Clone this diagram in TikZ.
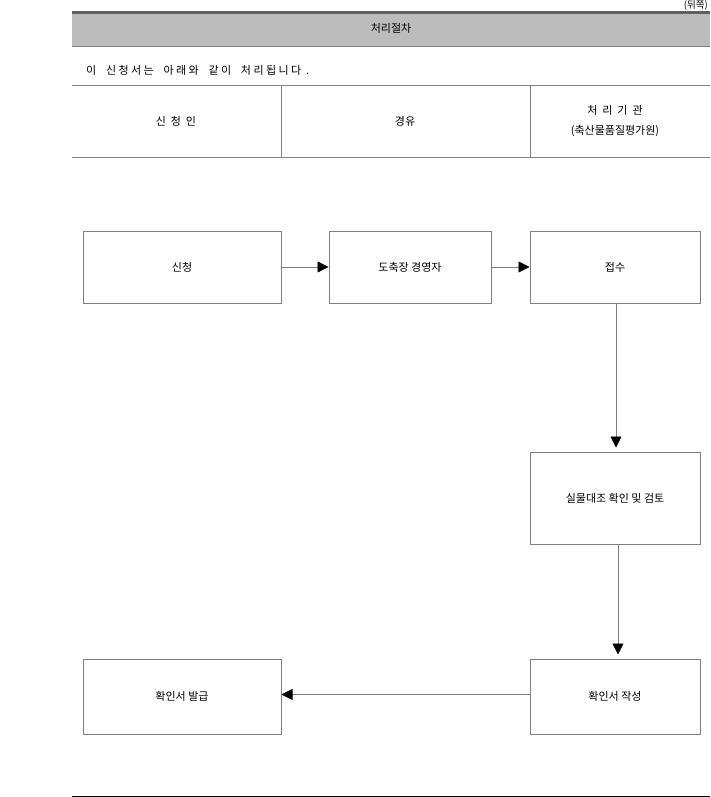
\documentclass[tikz,border=0pt]{standalone}
\usepackage{fontspec}
\setmainfont{Noto Sans CJK KR}
\usetikzlibrary{arrows.meta}
\definecolor{bandgray}{HTML}{BCBCBC}
\definecolor{linegray}{HTML}{808080}
\definecolor{darkline}{HTML}{606060}
\begin{document}
\begin{tikzpicture}[x=1pt,y=-1pt,
  font=\fontsize{11}{13}\selectfont,
  procbox/.style={draw=linegray,line width=1pt,minimum width=#1,inner sep=0pt,align=center},
  conn/.style={draw=linegray,line width=0.8pt,-{Triangle[length=11pt,width=11pt,fill=black,color=black]}},
  rule/.style={draw=linegray,line width=1pt}]
\useasboundingbox (0,0) rectangle (710,797);
% header
\node[anchor=north east,inner sep=0pt,font=\fontsize{9.5}{10}\selectfont] (back) at (708,0.5) {(뒤쪽)};
\fill[bandgray] (72,14) rectangle (710,47);
\draw[darkline,line width=3pt] (72,12.5) -- (710,12.5);
\draw[rule] (72,47) -- (710,47);
\node (title) at (391,28) {처리절차};
\node[anchor=west,inner sep=0pt] (intro) at (86,70) {\addfontfeature{LetterSpace=22}이 \ 신청서는 \ 아래와 \ 같이 \ 처리됩니다 .};
\draw[rule] (72,86) -- (710,86);
\draw[rule] (72,157) -- (710,157);
\draw[rule] (281,86) -- (281,157);
\draw[rule] (530,86) -- (530,157);
\node (h1) at (176,121) {신 \ 청 \ 인};
\node (h2) at (405,121) {경유};
\node (h3a) at (615,110) {처 \ 리 \ 기 \ 관};
\node (h3b) at (615,131) {(축산물품질평가원)};
% boxes
\node[procbox=198pt,minimum height=72pt] (b1) at (182,267) {신청};
\node[procbox=162pt,minimum height=72pt] (b2) at (410,267) {도축장 경영자};
\node[procbox=170pt,minimum height=72pt] (b3) at (615,267) {접수};
\node[procbox=170pt,minimum height=92pt] (b4) at (615,498) {실물대조 확인 및 검토};
\node[procbox=170pt,minimum height=75pt] (b5) at (615,696.5) {확인서 작성};
\node[procbox=198pt,minimum height=75pt] (b6) at (182,696.5) {확인서 발급};
% connectors
\draw[conn] (b1) -- (b2);
\draw[conn] (b2) -- (b3);
\draw[conn,shorten >=4pt] (b3.south) ++(1,0) coordinate (c3) -- (c3 |- b4.north);
\draw[conn,shorten >=4pt] (b4.south) ++(3,0) coordinate (c4) -- (c4 |- b5.north);
\draw[conn] (b5.west) ++(0,-2) coordinate (c5) -- (c5 -| b6.east);
% bottom rule
\draw[black,line width=1pt] (72,796) -- (710,796);
\end{tikzpicture}
\end{document}
